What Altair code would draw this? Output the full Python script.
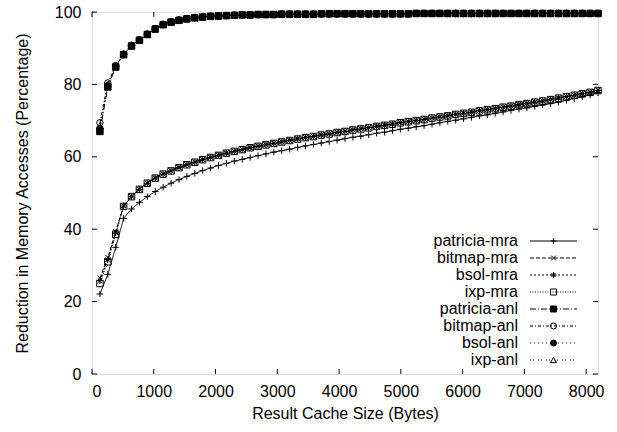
import altair as alt
import pandas as pd

sizes = [128 * k for k in range(1, 65)]

series_names = ["patricia-mra", "bitmap-mra", "bsol-mra", "ixp-mra",
                "patricia-anl", "bitmap-anl", "bsol-anl", "ixp-anl"]

patricia_mra = [22.1, 27.5, 35.0, 43.0, 45.6, 47.4, 49.0, 50.4, 51.6, 52.7,
                53.7, 54.6, 55.4, 56.2, 56.9, 57.6, 58.2, 58.8, 59.3, 59.8,
                60.3, 60.8, 61.3, 61.7, 62.1, 62.6, 63.0, 63.4, 63.8, 64.2,
                64.6, 65.0, 65.4, 65.7, 66.1, 66.5, 66.8, 67.2, 67.6, 67.9,
                68.3, 68.6, 69.0, 69.4, 69.8, 70.1, 70.5, 70.9, 71.3, 71.6,
                72.0, 72.4, 72.8, 73.2, 73.5, 73.9, 74.3, 74.7, 75.1, 75.6,
                76.1, 76.6, 77.1, 77.7]
bitmap_mra = [26.5, 32.2, 39.3, 46.5, 49.1, 51.1, 52.8, 54.2, 55.3, 56.2,
              57.1, 57.9, 58.6, 59.3, 59.9, 60.5, 61.1, 61.6, 62.1, 62.6,
              63.0, 63.4, 63.8, 64.2, 64.6, 65.0, 65.4, 65.7, 66.1, 66.4,
              66.8, 67.1, 67.5, 67.8, 68.1, 68.5, 68.8, 69.1, 69.5, 69.8,
              70.1, 70.4, 70.8, 71.1, 71.4, 71.8, 72.1, 72.4, 72.8, 73.1,
              73.4, 73.8, 74.1, 74.5, 74.8, 75.2, 75.5, 75.9, 76.3, 76.7,
              77.1, 77.5, 77.9, 78.4]
bsol_mra = [25.8, 31.6, 39.0, 46.4, 49.0, 51.0, 52.7, 54.1, 55.2, 56.1,
            57.0, 57.8, 58.5, 59.2, 59.8, 60.4, 61.0, 61.5, 62.0, 62.5,
            62.9, 63.3, 63.7, 64.1, 64.5, 64.9, 65.3, 65.6, 66.0, 66.3,
            66.7, 67.0, 67.4, 67.7, 68.0, 68.4, 68.7, 69.0, 69.4, 69.7,
            70.0, 70.3, 70.7, 71.0, 71.3, 71.7, 72.0, 72.3, 72.7, 73.0,
            73.3, 73.7, 74.0, 74.4, 74.7, 75.1, 75.4, 75.8, 76.2, 76.6,
            77.0, 77.4, 77.8, 78.3]
ixp_mra = [25.0, 31.0, 38.6, 46.3, 49.0, 51.0, 52.7, 54.1, 55.2, 56.1,
           57.0, 57.8, 58.5, 59.2, 59.8, 60.4, 61.0, 61.5, 62.0, 62.5,
           62.9, 63.3, 63.7, 64.1, 64.5, 64.9, 65.3, 65.6, 66.0, 66.3,
           66.7, 67.0, 67.4, 67.7, 68.0, 68.4, 68.7, 69.0, 69.4, 69.7,
           70.0, 70.3, 70.7, 71.0, 71.3, 71.7, 72.0, 72.3, 72.7, 73.0,
           73.3, 73.7, 74.0, 74.4, 74.7, 75.1, 75.4, 75.8, 76.2, 76.6,
           77.0, 77.4, 77.8, 78.3]
patricia_anl = [67.0, 79.3, 84.8, 88.2, 90.6, 92.2, 93.8, 95.3, 96.5, 97.2,
                97.7, 98.1, 98.4, 98.6, 98.8, 98.9, 99.0, 99.1, 99.2, 99.2,
                99.3, 99.3, 99.3, 99.4, 99.4, 99.4, 99.4, 99.4, 99.5, 99.5,
                99.5, 99.5, 99.5, 99.5, 99.5, 99.5, 99.5, 99.5, 99.5, 99.5,
                99.6, 99.6, 99.6, 99.6, 99.6, 99.6, 99.6, 99.6, 99.6, 99.6,
                99.6, 99.6, 99.6, 99.6, 99.6, 99.6, 99.6, 99.6, 99.6, 99.6,
                99.6, 99.6, 99.6, 99.6]
bitmap_anl = [69.4, 80.4, 85.2, 88.4, 90.8, 92.3, 93.9, 95.4, 96.6, 97.3,
              97.8, 98.2, 98.5, 98.7, 98.8, 98.9, 99.0, 99.1, 99.2, 99.2,
              99.3, 99.3, 99.3, 99.4, 99.4, 99.4, 99.4, 99.4, 99.5, 99.5,
              99.5, 99.5, 99.5, 99.5, 99.5, 99.5, 99.5, 99.5, 99.5, 99.5,
              99.6, 99.6, 99.6, 99.6, 99.6, 99.6, 99.6, 99.6, 99.6, 99.6,
              99.6, 99.6, 99.6, 99.6, 99.6, 99.6, 99.6, 99.6, 99.6, 99.6,
              99.6, 99.6, 99.6, 99.6]
bsol_anl = [67.8, 79.6, 84.9, 88.3, 90.7, 92.2, 93.8, 95.3, 96.5, 97.2,
            97.7, 98.1, 98.4, 98.6, 98.8, 98.9, 99.0, 99.1, 99.2, 99.2,
            99.3, 99.3, 99.3, 99.4, 99.4, 99.4, 99.4, 99.4, 99.5, 99.5,
            99.5, 99.5, 99.5, 99.5, 99.5, 99.5, 99.5, 99.5, 99.5, 99.5,
            99.6, 99.6, 99.6, 99.6, 99.6, 99.6, 99.6, 99.6, 99.6, 99.6,
            99.6, 99.6, 99.6, 99.6, 99.6, 99.6, 99.6, 99.6, 99.6, 99.6,
            99.6, 99.6, 99.6, 99.6]
ixp_anl = [68.6, 80.0, 85.0, 88.3, 90.7, 92.2, 93.8, 95.3, 96.5, 97.2,
           97.7, 98.1, 98.4, 98.6, 98.8, 98.9, 99.0, 99.1, 99.2, 99.2,
           99.3, 99.3, 99.3, 99.4, 99.4, 99.4, 99.4, 99.4, 99.5, 99.5,
           99.5, 99.5, 99.5, 99.5, 99.5, 99.5, 99.5, 99.5, 99.5, 99.5,
           99.6, 99.6, 99.6, 99.6, 99.6, 99.6, 99.6, 99.6, 99.6, 99.6,
           99.6, 99.6, 99.6, 99.6, 99.6, 99.6, 99.6, 99.6, 99.6, 99.6,
           99.6, 99.6, 99.6, 99.6]

x_ticks = [0, 1000, 2000, 3000, 4000, 5000, 6000, 7000, 8000]
y_ticks = [0, 20, 40, 60, 80, 100]

all_values = [patricia_mra, bitmap_mra, bsol_mra, ixp_mra,
              patricia_anl, bitmap_anl, bsol_anl, ixp_anl]

rows = []
for name, vals in zip(series_names, all_values):
    for s, v in zip(sizes, vals):
        rows.append({"size": s, "value": v, "series": name})
df = pd.DataFrame(rows)

dash_range = [[1, 0], [4, 2], [2, 2], [1, 1.5], [6, 2, 1, 2], [3, 2, 1, 2], [1, 3], [1, 2, 1, 4]]
shape_range = [
    "M-1,0L1,0M0,-1L0,1",
    "M-0.8,-0.8L0.8,0.8M-0.8,0.8L0.8,-0.8",
    "M-1,0L1,0M0,-1L0,1M-0.7,-0.7L0.7,0.7M-0.7,0.7L0.7,-0.7",
    "square", "square", "circle", "circle", "triangle-up",
]
fill_range = ["transparent", "transparent", "transparent", "transparent",
              "black", "transparent", "black", "transparent"]

FONT = "Liberation Sans"
W, H = 506, 362

xscale = alt.Scale(domain=[0, 8192], nice=False, zero=False)
yscale = alt.Scale(domain=[0, 100], nice=False)
dash_enc = alt.StrokeDash("series:N", scale=alt.Scale(domain=series_names, range=dash_range), legend=None)
shape_enc = alt.Shape("series:N", scale=alt.Scale(domain=series_names, range=shape_range), legend=None)
fill_enc = alt.Fill("series:N", scale=alt.Scale(domain=series_names, range=fill_range), legend=None)

lines = alt.Chart(df).mark_line(color="black", strokeWidth=1).encode(
    x=alt.X("size:Q", scale=xscale,
            axis=alt.Axis(values=x_ticks, format="d", title="Result Cache Size (Bytes)", grid=False,
                          tickSize=0, domain=False, labelPadding=9, titlePadding=6,
                          labelFontSize=16, titleFontSize=16, labelFont=FONT, titleFont=FONT,
                          titleFontWeight="normal", labelColor="black", titleColor="black")),
    y=alt.Y("value:Q", scale=yscale,
            axis=alt.Axis(values=y_ticks, format="d", title="Reduction in Memory Accesses (Percentage)",
                          grid=False, tickSize=0, domain=False, labelPadding=11, titlePadding=24,
                          labelFontSize=16, titleFontSize=16, labelFont=FONT, titleFont=FONT,
                          titleFontWeight="normal", labelColor="black", titleColor="black")),
    strokeDash=dash_enc,
    detail="series:N",
)

points = alt.Chart(df).mark_point(filled=True, stroke="black", strokeWidth=1, size=42, opacity=1).encode(
    x=alt.X("size:Q", scale=xscale),
    y=alt.Y("value:Q", scale=yscale),
    shape=shape_enc,
    fill=fill_enc,
)

xt = pd.DataFrame({"t": x_ticks})
yt = pd.DataFrame({"t": y_ticks})
xt_bottom = alt.Chart(xt).mark_rule(color="black").encode(
    x=alt.X("t:Q", scale=xscale), y=alt.value(H), y2=alt.value(H - 5))
xt_top = alt.Chart(xt).mark_rule(color="black").encode(
    x=alt.X("t:Q", scale=xscale), y=alt.value(0), y2=alt.value(5))
yt_left = alt.Chart(yt).mark_rule(color="black").encode(
    y=alt.Y("t:Q", scale=yscale), x=alt.value(0), x2=alt.value(5))
yt_right = alt.Chart(yt).mark_rule(color="black").encode(
    y=alt.Y("t:Q", scale=yscale), x=alt.value(W), x2=alt.value(W - 5))

main = alt.layer(lines, points, xt_bottom, xt_top, yt_left, yt_right)

leg_df = pd.DataFrame({"series": series_names})
leg_y = alt.Y("series:N", scale=alt.Scale(type="point", domain=series_names, range=[229, 348], padding=0), axis=None)
leg_text = alt.Chart(leg_df).mark_text(align="right", baseline="middle", font=FONT, fontSize=16, color="black").encode(
    y=leg_y, x=alt.value(426), text="series:N")
leg_line = alt.Chart(leg_df).mark_rule(color="black", strokeWidth=1).encode(
    y=leg_y, x=alt.value(438), x2=alt.value(485), strokeDash=dash_enc)
leg_pt = alt.Chart(leg_df).mark_point(filled=True, stroke="black", strokeWidth=1, size=36, opacity=1).encode(
    y=leg_y, x=alt.value(461.5), shape=shape_enc, fill=fill_enc)
legend = alt.layer(leg_text, leg_line, leg_pt)

chart = alt.layer(main, legend).resolve_scale(y="independent").properties(
    width=W, height=H,
    autosize=alt.AutoSizeParams(type="none"),
    padding={"left": 92, "top": 12, "right": 19, "bottom": 58},
).configure_view(stroke="black", strokeWidth=1).configure(background="white")

chart.save("out.html", embed_options={"renderer": "svg", "actions": False})
